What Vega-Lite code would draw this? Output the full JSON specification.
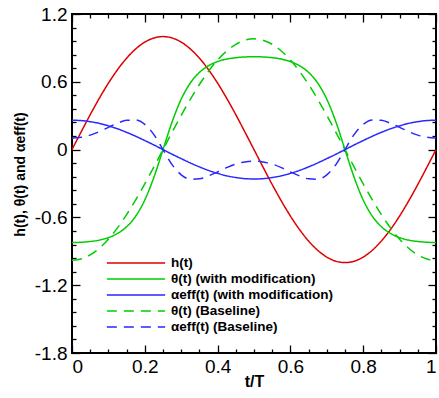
{
  "$schema": "https://vega.github.io/schema/vega-lite/v6.json",
  "width": 364,
  "height": 339,
  "autosize": {"type": "none"},
  "padding": {"left": 72, "top": 14, "right": 3, "bottom": 45},
  "background": "white",
  "config": {
    "font": "Liberation Sans",
    "view": {"stroke": "black", "strokeWidth": 2},
    "axis": {"domain": false, "grid": false, "tickColor": "black", "tickWidth": 1.3, "labelColor": "black", "titleColor": "black", "labelFont": "Liberation Sans", "labelFontSize": 19, "titleFont": "Liberation Sans", "titleFontWeight": "bold"}
  },
  "data": {"values": [
    {"t":0,"h":0,"thm":-0.822,"alm":0.26,"thb":-0.98,"alb":0.102},
    {"t":0.025,"h":0.156,"thm":-0.82,"alm":0.257,"thb":-0.968,"alb":0.109},
    {"t":0.05,"h":0.309,"thm":-0.813,"alm":0.247,"thb":-0.932,"alb":0.128},
    {"t":0.075,"h":0.454,"thm":-0.801,"alm":0.232,"thb":-0.873,"alb":0.159},
    {"t":0.1,"h":0.588,"thm":-0.779,"alm":0.21,"thb":-0.793,"alb":0.197},
    {"t":0.125,"h":0.707,"thm":-0.742,"alm":0.184,"thb":-0.693,"alb":0.233},
    {"t":0.15,"h":0.809,"thm":-0.683,"alm":0.153,"thb":-0.576,"alb":0.259},
    {"t":0.175,"h":0.891,"thm":-0.589,"alm":0.118,"thb":-0.445,"alb":0.262},
    {"t":0.2,"h":0.951,"thm":-0.446,"alm":0.08,"thb":-0.303,"alb":0.223},
    {"t":0.225,"h":0.988,"thm":-0.245,"alm":0.041,"thb":-0.153,"alb":0.133},
    {"t":0.25,"h":1,"thm":0,"alm":0,"thb":0,"alb":0},
    {"t":0.275,"h":0.988,"thm":0.245,"alm":-0.041,"thb":0.153,"alb":-0.133},
    {"t":0.3,"h":0.951,"thm":0.446,"alm":-0.08,"thb":0.303,"alb":-0.223},
    {"t":0.325,"h":0.891,"thm":0.589,"alm":-0.118,"thb":0.445,"alb":-0.262},
    {"t":0.35,"h":0.809,"thm":0.683,"alm":-0.153,"thb":0.576,"alb":-0.259},
    {"t":0.375,"h":0.707,"thm":0.742,"alm":-0.184,"thb":0.693,"alb":-0.233},
    {"t":0.4,"h":0.588,"thm":0.779,"alm":-0.21,"thb":0.793,"alb":-0.197},
    {"t":0.425,"h":0.454,"thm":0.801,"alm":-0.232,"thb":0.873,"alb":-0.159},
    {"t":0.45,"h":0.309,"thm":0.813,"alm":-0.247,"thb":0.932,"alb":-0.128},
    {"t":0.475,"h":0.156,"thm":0.82,"alm":-0.257,"thb":0.968,"alb":-0.109},
    {"t":0.5,"h":0,"thm":0.822,"alm":-0.26,"thb":0.98,"alb":-0.102},
    {"t":0.525,"h":-0.156,"thm":0.82,"alm":-0.257,"thb":0.968,"alb":-0.109},
    {"t":0.55,"h":-0.309,"thm":0.813,"alm":-0.247,"thb":0.932,"alb":-0.128},
    {"t":0.575,"h":-0.454,"thm":0.801,"alm":-0.232,"thb":0.873,"alb":-0.159},
    {"t":0.6,"h":-0.588,"thm":0.779,"alm":-0.21,"thb":0.793,"alb":-0.197},
    {"t":0.625,"h":-0.707,"thm":0.742,"alm":-0.184,"thb":0.693,"alb":-0.233},
    {"t":0.65,"h":-0.809,"thm":0.683,"alm":-0.153,"thb":0.576,"alb":-0.259},
    {"t":0.675,"h":-0.891,"thm":0.589,"alm":-0.118,"thb":0.445,"alb":-0.262},
    {"t":0.7,"h":-0.951,"thm":0.446,"alm":-0.08,"thb":0.303,"alb":-0.223},
    {"t":0.725,"h":-0.988,"thm":0.245,"alm":-0.041,"thb":0.153,"alb":-0.133},
    {"t":0.75,"h":-1,"thm":0,"alm":0,"thb":0,"alb":0},
    {"t":0.775,"h":-0.988,"thm":-0.245,"alm":0.041,"thb":-0.153,"alb":0.133},
    {"t":0.8,"h":-0.951,"thm":-0.446,"alm":0.08,"thb":-0.303,"alb":0.223},
    {"t":0.825,"h":-0.891,"thm":-0.589,"alm":0.118,"thb":-0.445,"alb":0.262},
    {"t":0.85,"h":-0.809,"thm":-0.683,"alm":0.153,"thb":-0.576,"alb":0.259},
    {"t":0.875,"h":-0.707,"thm":-0.742,"alm":0.184,"thb":-0.693,"alb":0.233},
    {"t":0.9,"h":-0.588,"thm":-0.779,"alm":0.21,"thb":-0.793,"alb":0.197},
    {"t":0.925,"h":-0.454,"thm":-0.801,"alm":0.232,"thb":-0.873,"alb":0.159},
    {"t":0.95,"h":-0.309,"thm":-0.813,"alm":0.247,"thb":-0.932,"alb":0.128},
    {"t":0.975,"h":-0.156,"thm":-0.82,"alm":0.257,"thb":-0.968,"alb":0.109},
    {"t":1,"h":0,"thm":-0.822,"alm":0.26,"thb":-0.98,"alb":0.102}
  ]},
  "transform": [{"fold": ["h", "thm", "alm", "thb", "alb"], "as": ["key", "value"]}],
  "layer": [
    {
      "mark": {"type": "line", "strokeWidth": 1.5, "interpolate": "monotone"},
      "encoding": {
        "x": {"field": "t", "type": "quantitative", "scale": {"domain": [0, 1], "nice": false},
          "axis": {"orient": "bottom", "values": [0,0.05,0.1,0.15,0.2,0.25,0.3,0.35,0.4,0.45,0.5,0.55,0.6,0.65,0.7,0.75,0.8,0.85,0.9,0.95,1],
            "tickSize": {"condition": {"test": "abs(datum.value*5 - round(datum.value*5)) < 0.001", "value": -8}, "value": -4},
            "labelExpr": "abs(datum.value*5 - round(datum.value*5)) < 0.001 ? toString(datum.value) : ''",
            "labelPadding": 12, "title": "t/T", "titleFontSize": 16, "titlePadding": -3}},
        "y": {"field": "value", "type": "quantitative", "scale": {"domain": [-1.8, 1.2], "nice": false, "zero": false},
          "axis": {"orient": "left", "values": [-1.8,-1.68,-1.56,-1.44,-1.32,-1.2,-1.08,-0.96,-0.84,-0.72,-0.6,-0.48,-0.36,-0.24,-0.12,0,0.12,0.24,0.36,0.48,0.6,0.72,0.84,0.96,1.08,1.2],
            "tickSize": {"condition": {"test": "abs(datum.value/0.6 - round(datum.value/0.6)) < 0.001", "value": -8}, "value": -4},
            "labelExpr": "abs(datum.value/0.6 - round(datum.value/0.6)) < 0.001 ? toString(datum.value) : ''",
            "labelPadding": 13, "title": "h(t), θ(t) and αeff(t)", "titleFontSize": 14, "titleX": -52, "titleY": 160, "titleBaseline": "middle"}},
        "color": {"field": "key", "type": "nominal",
          "scale": {"domain": ["h", "thm", "alm", "thb", "alb"], "range": ["#dd0000", "#00cc00", "#2828ff", "#00cc00", "#2828ff"]},
          "legend": {"orient": "none", "legendX": 34, "legendY": 241, "title": null, "symbolType": "stroke", "symbolSize": 3400, "symbolStrokeWidth": 1.5, "clipHeight": 16, "rowPadding": 0, "padding": 0, "labelFont": "Liberation Sans", "labelFontWeight": "bold", "labelFontSize": 13.5, "labelColor": "black", "labelLimit": 0, "labelOffset": 5,
            "labelExpr": "datum.label == 'h' ? 'h(t)' : datum.label == 'thm' ? 'θ(t) (with modification)' : datum.label == 'alm' ? 'αeff(t) (with modification)' : datum.label == 'thb' ? 'θ(t) (Baseline)' : 'αeff(t) (Baseline)'"}},
        "strokeDash": {"field": "key", "type": "nominal",
          "scale": {"domain": ["h", "thm", "alm", "thb", "alb"], "range": [[1, 0], [1, 0], [1, 0], [10, 7], [10, 7]]}}
      }
    },
    {
      "mark": {"type": "line", "opacity": 0},
      "encoding": {
        "x": {"field": "t", "type": "quantitative", "scale": {"domain": [0, 1], "nice": false},
          "axis": {"orient": "top", "values": [0,0.05,0.1,0.15,0.2,0.25,0.3,0.35,0.4,0.45,0.5,0.55,0.6,0.65,0.7,0.75,0.8,0.85,0.9,0.95,1],
            "tickSize": {"condition": {"test": "abs(datum.value*5 - round(datum.value*5)) < 0.001", "value": -8}, "value": -4},
            "labels": false, "title": null}},
        "y": {"field": "value", "type": "quantitative", "scale": {"domain": [-1.8, 1.2], "nice": false, "zero": false},
          "axis": {"orient": "right", "values": [-1.8,-1.68,-1.56,-1.44,-1.32,-1.2,-1.08,-0.96,-0.84,-0.72,-0.6,-0.48,-0.36,-0.24,-0.12,0,0.12,0.24,0.36,0.48,0.6,0.72,0.84,0.96,1.08,1.2],
            "tickSize": {"condition": {"test": "abs(datum.value/0.6 - round(datum.value/0.6)) < 0.001", "value": -8}, "value": -4},
            "labels": false, "title": null}}
      }
    }
  ],
  "resolve": {"axis": {"x": "independent", "y": "independent"}}
}
